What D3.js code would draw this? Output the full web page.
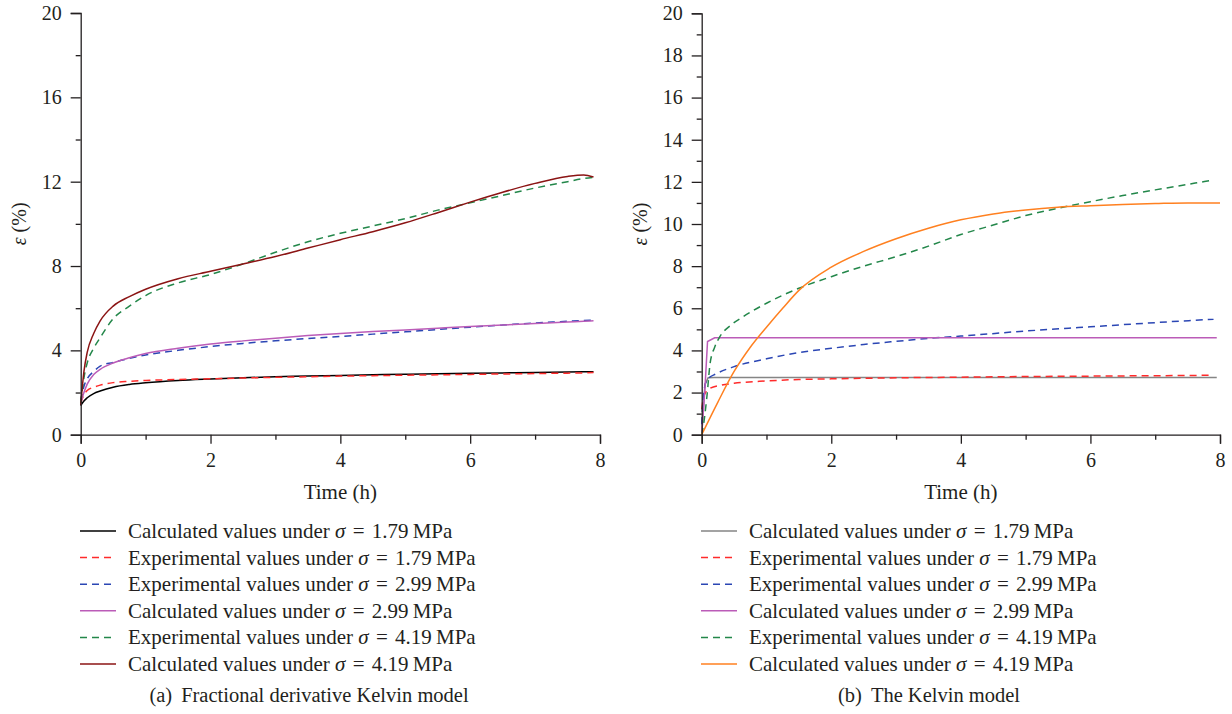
<!DOCTYPE html>
<html>
<head>
<meta charset="utf-8">
<script src="https://cdn.jsdelivr.net/npm/d3@7"></script>
<style>
  html, body { margin: 0; padding: 0; background: #fff; }
  svg { display: block; }
  svg text { font-family: "Liberation Serif", "DejaVu Serif", serif !important; fill: #231f20; }
</style>
</head>
<body>
<svg id="chart" width="1232" height="714"></svg>
<script>
// ---------- DATA ----------
// Panel (a): Fractional derivative Kelvin model
const timeA = [0, 0.05, 0.1, 0.2, 0.3, 0.5, 0.75, 1, 1.5, 2, 2.5, 3, 3.5, 4, 4.5, 5, 5.5, 6, 6.5, 7, 7.5, 7.75, 7.9];
const calcA179 = [1.38, 1.6, 1.75, 1.95, 2.07, 2.25, 2.38, 2.46, 2.57, 2.64, 2.70, 2.75, 2.78, 2.81, 2.84, 2.87, 2.89, 2.91, 2.93, 2.95, 2.97, 2.98, 2.99];
const expA179  = [1.5, 1.9, 2.1, 2.25, 2.35, 2.47, 2.53, 2.57, 2.62, 2.65, 2.69, 2.72, 2.75, 2.78, 2.8, 2.82, 2.84, 2.86, 2.88, 2.9, 2.92, 2.93, 2.95];
const expA299  = [1.6, 2.3, 2.65, 3.0, 3.25, 3.43, 3.62, 3.78, 4.0, 4.18, 4.33, 4.45, 4.56, 4.66, 4.77, 4.88, 4.99, 5.1, 5.2, 5.3, 5.38, 5.42, 5.43];
const calcA299 = [1.5, 2.0, 2.4, 2.85, 3.1, 3.4, 3.65, 3.85, 4.1, 4.3, 4.45, 4.58, 4.7, 4.8, 4.89, 4.97, 5.05, 5.13, 5.2, 5.27, 5.34, 5.38, 5.4];
const expA419  = [1.5, 2.7, 3.4, 4.1, 4.6, 5.5, 6.1, 6.6, 7.2, 7.6, 8.1, 8.65, 9.15, 9.55, 9.9, 10.25, 10.65, 11.0, 11.35, 11.7, 12.0, 12.15, 12.2];
const calcA419 = [1.4, 3.0, 3.9, 4.8, 5.4, 6.1, 6.55, 6.9, 7.4, 7.75, 8.1, 8.45, 8.85, 9.25, 9.63, 10.05, 10.53, 11.03, 11.5, 11.92, 12.25, 12.32, 12.22];

// Panel (b): The Kelvin model
const timeB179c = [0, 0.05, 0.1, 0.2, 7.95];
const calcB179  = [0, 2.4, 2.7, 2.72, 2.72];
const timeB179e = [0, 0.025, 0.05, 0.13, 0.3, 0.5, 1, 1.5, 2, 3, 4, 5, 6, 7, 7.9];
const expB179   = [1.2, 1.73, 1.95, 2.2, 2.35, 2.44, 2.55, 2.62, 2.65, 2.7, 2.73, 2.76, 2.78, 2.8, 2.82];
const timeB299e = [0, 0.025, 0.08, 0.23, 0.5, 1, 1.5, 2, 2.5, 3, 3.5, 4, 5, 6, 7, 7.9];
const expB299   = [0.5, 1.8, 2.6, 2.9, 3.23, 3.6, 3.9, 4.1, 4.28, 4.43, 4.57, 4.68, 4.92, 5.12, 5.32, 5.48];
const timeB299c = [0, 0.05, 0.09, 0.2, 7.95];
const calcB299  = [0, 2.2, 4.42, 4.6, 4.6];
const timeB419e = [0, 0.015, 0.08, 0.13, 0.2, 0.28, 0.45, 0.64, 1, 1.5, 2, 2.5, 3, 3.5, 4, 4.5, 5, 5.5, 6, 6.5, 7, 7.5, 7.9];
const expB419   = [0, 0.22, 1.8, 3.39, 4.15, 4.65, 5.2, 5.6, 6.24, 6.95, 7.5, 8.0, 8.45, 8.95, 9.5, 9.95, 10.4, 10.75, 11.06, 11.35, 11.62, 11.88, 12.09];
const timeB419c = [0, 0.25, 0.5, 0.75, 1, 1.25, 1.5, 2, 2.5, 3, 3.5, 4, 4.5, 5, 5.5, 6, 6.5, 7, 7.5, 8];
const calcB419  = [0, 1.55, 3.0, 4.15, 5.1, 6.0, 6.85, 7.95, 8.7, 9.3, 9.8, 10.2, 10.48, 10.67, 10.8, 10.87, 10.93, 10.97, 11.0, 11.0];

// Tick values
const xMajor = [0, 2, 4, 6, 8];
const xMinor = [1, 3, 5, 7];
const yMajorA = [0, 4, 8, 12, 16, 20];
const yMinorA = [2, 6, 10, 14, 18];
const yMajorB = [0, 2, 4, 6, 8, 10, 12, 14, 16, 18, 20];
const yMinorB = [1, 3, 5, 7, 9, 11, 13, 15, 17, 19];

// Legend labels
const legendA = [
  ["Calculated", "1.79"], ["Experimental", "1.79"], ["Experimental", "2.99"],
  ["Calculated", "2.99"], ["Experimental", "4.19"], ["Calculated", "4.19"]
];
const legendB = legendA;
const captionA = ["(a)", "Fractional derivative Kelvin model"];
const captionB = ["(b)", "The Kelvin model"];

// ---------- DRAWING ----------
const svg = d3.select("#chart");
const DASH = "7,5";
const SERIF = '"Liberation Serif", "DejaVu Serif", serif';

function panel(cfg) {
  const g = svg.append("g");
  const x = d3.scaleLinear().domain([0, 8]).range([cfg.x0, cfg.x1]);
  const y = d3.scaleLinear().domain([0, 20]).range([cfg.y0, cfg.y1]);

  const smooth = d3.line().x(d => x(d[0])).y(d => y(d[1])).curve(d3.curveMonotoneX);
  const straight = d3.line().x(d => x(d[0])).y(d => y(d[1]));
  cfg.series.forEach(s => {
    const pts = s.t.map((t, i) => [t, s.v[i]]);
    g.append("path").datum(pts)
      .attr("d", s.linear ? straight(pts) : smooth(pts))
      .attr("fill", "none")
      .attr("stroke", s.color)
      .attr("stroke-width", 1.5)
      .attr("stroke-dasharray", s.dash ? DASH : null);
  });

  const axisStyle = sel => {
    sel.attr("font-family", SERIF);
    sel.selectAll("path, line").attr("stroke", "#231f20").attr("stroke-width", 1.3);
    sel.selectAll("text").attr("font-size", 20).style("font-family", SERIF).attr("fill", "#231f20");
  };
  g.append("g").attr("transform", `translate(0,${cfg.y0})`)
    .call(d3.axisBottom(x).tickValues(xMajor).tickSize(9).tickPadding(9).tickFormat(d3.format("d")))
    .call(axisStyle);
  g.append("g").attr("transform", `translate(0,${cfg.y0})`)
    .call(d3.axisBottom(x).tickValues(xMinor).tickSize(5).tickFormat(""))
    .call(axisStyle).select(".domain").remove();
  g.append("g").attr("transform", `translate(${cfg.x0},0)`)
    .call(d3.axisLeft(y).tickValues(cfg.yMajor).tickSize(10).tickPadding(9).tickFormat(d3.format("d")))
    .call(axisStyle);
  g.append("g").attr("transform", `translate(${cfg.x0},0)`)
    .call(d3.axisLeft(y).tickValues(cfg.yMinor).tickSize(5).tickFormat(""))
    .call(axisStyle).select(".domain").remove();

  g.append("text")
    .attr("transform", `translate(${cfg.x0 - 55},${(cfg.y0 + cfg.y1) / 2}) rotate(-90)`)
    .attr("text-anchor", "middle").attr("font-size", 20)
    .html('<tspan font-style="italic">ε</tspan> (%)');
  g.append("text")
    .attr("x", (cfg.x0 + cfg.x1) / 2).attr("y", cfg.y0 + 64)
    .attr("text-anchor", "middle").attr("font-size", 21)
    .text("Time (h)");

  cfg.series.forEach((s, i) => {
    const ly = 531 + i * 26.6;
    g.append("line")
      .attr("x1", cfg.legX).attr("x2", cfg.legX + 36)
      .attr("y1", ly).attr("y2", ly)
      .attr("stroke", s.color).attr("stroke-width", 1.5)
      .attr("stroke-dasharray", s.dash ? DASH : null);
    const t = g.append("text").attr("x", cfg.legX + 48).attr("y", ly + 7).attr("font-size", 21);
    const lab = cfg.legend[i];
    t.append("tspan").text(lab[0] + " values under ");
    t.append("tspan").attr("font-style", "italic").text("σ");
    t.append("tspan").attr("dx", 2).text(" = ");
    t.append("tspan").attr("dx", 2).text(lab[1] + "\u2009MPa");
  });

  const c = g.append("text").attr("x", cfg.capX).attr("y", 702)
    .attr("text-anchor", "middle").attr("font-size", 20.5);
  c.append("tspan").text(cfg.caption[0]);
  c.append("tspan").attr("dx", 9).text(cfg.caption[1]);
}

panel({
  x0: 80.7, x1: 600, y0: 434.7, y1: 13,
  yMajor: yMajorA, yMinor: yMinorA,
  legX: 80, capX: 309, legend: legendA, caption: captionA,
  series: [
    { t: timeA, v: calcA179, color: "#000000", dash: false },
    { t: timeA, v: expA179,  color: "#ff2b2b", dash: true },
    { t: timeA, v: expA299,  color: "#2b46b4", dash: true },
    { t: timeA, v: calcA299, color: "#bb5cb8", dash: false },
    { t: timeA, v: expA419,  color: "#23874a", dash: true },
    { t: timeA, v: calcA419, color: "#8b1414", dash: false }
  ]
});

panel({
  x0: 701.7, x1: 1220, y0: 434.7, y1: 13.3,
  yMajor: yMajorB, yMinor: yMinorB,
  legX: 701, capX: 929, legend: legendB, caption: captionB,
  series: [
    { t: timeB179c, v: calcB179, color: "#858585", dash: false, linear: true },
    { t: timeB179e, v: expB179,  color: "#ff2b2b", dash: true },
    { t: timeB299e, v: expB299,  color: "#2b46b4", dash: true },
    { t: timeB299c, v: calcB299, color: "#bb5cb8", dash: false, linear: true },
    { t: timeB419e, v: expB419,  color: "#23874a", dash: true },
    { t: timeB419c, v: calcB419, color: "#ff8020", dash: false }
  ]
});
</script>
</body>
</html>
